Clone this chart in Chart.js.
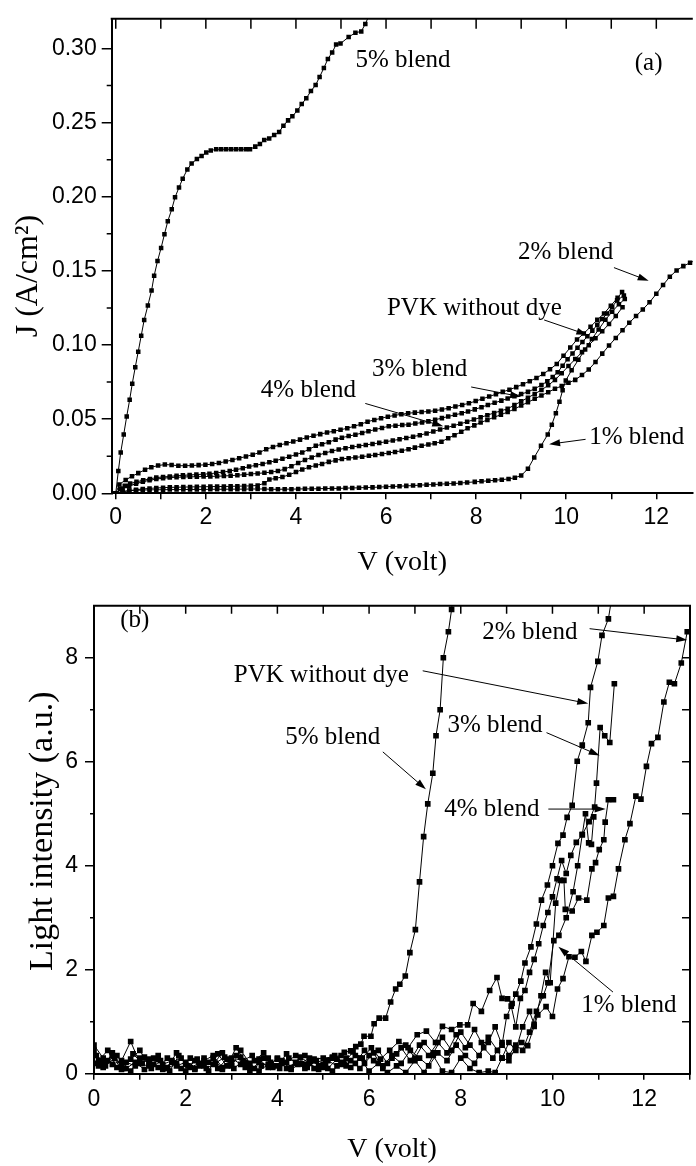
<!DOCTYPE html>
<html><head><meta charset="utf-8">
<script src="https://cdn.jsdelivr.net/npm/chart.js@4/dist/chart.umd.min.js"></script>
<style>
html,body{margin:0;padding:0;background:#fff;}
#wrap{position:relative;width:696px;height:1166px;overflow:hidden;background:#fff;}
canvas{position:absolute;left:0;}
#ca{top:0;}
#cb{top:585px;}
</style></head><body>
<div id="wrap"><canvas id="ca" width="696" height="585"></canvas><canvas id="cb" width="696" height="581"></canvas></div>
<script>
// ---------- Panel (a): J (A/cm2) vs V (volt) ----------
const a5 = [[0,0],[0.057,0.015],[0.11,0.0275],[0.177,0.0397],[0.243,0.0518],[0.309,0.0631],[0.366,0.0739],[0.433,0.085],[0.499,0.0955],[0.565,0.1063],[0.631,0.1169],[0.713,0.1266],[0.795,0.1367],[0.852,0.1467],[0.927,0.1566],[1.007,0.1655],[1.081,0.1747],[1.155,0.1835],[1.243,0.1915],[1.316,0.1996],[1.404,0.2062],[1.486,0.2122],[1.589,0.2184],[1.684,0.2224],[1.801,0.2254],[1.905,0.2274],[2.009,0.2298],[2.11,0.2312],[2.23,0.232],[2.34,0.232],[2.45,0.232],[2.56,0.232],[2.67,0.232],[2.78,0.232],[2.89,0.232],[2.98,0.232],[3.097,0.2338],[3.2,0.2356],[3.296,0.2382],[3.406,0.2393],[3.517,0.2416],[3.627,0.2437],[3.722,0.2479],[3.826,0.2515],[3.921,0.2543],[4.031,0.2581],[4.128,0.2625],[4.23,0.2664],[4.333,0.2713],[4.437,0.2753],[4.525,0.2808],[4.62,0.2868],[4.709,0.2929],[4.804,0.2973],[4.892,0.3026],[4.989,0.3033],[5.17,0.3077],[5.32,0.3106],[5.45,0.3115],[5.54,0.3165],[5.62,0.322]];
const aPVK = [[0,0],[0.08,0.006],[0.22,0.009],[0.36,0.0115],[0.5,0.0136],[0.65,0.0159],[0.79,0.0176],[0.94,0.0187],[1.09,0.0194],[1.24,0.0191],[1.39,0.0186],[1.54,0.0186],[1.69,0.0187],[1.84,0.019],[1.99,0.0192],[2.14,0.0197],[2.29,0.0205],[2.44,0.0214],[2.59,0.0225],[2.74,0.0237],[2.89,0.0248],[3.04,0.026],[3.19,0.0275],[3.34,0.0297],[3.49,0.0313],[3.64,0.0326],[3.79,0.0337],[3.94,0.0349],[4.09,0.0362],[4.24,0.0376],[4.39,0.0388],[4.54,0.0399],[4.69,0.041],[4.84,0.0419],[4.99,0.0428],[5.14,0.0439],[5.29,0.0452],[5.44,0.0466],[5.59,0.0483],[5.74,0.0495],[5.89,0.0506],[6.04,0.0517],[6.19,0.0525],[6.34,0.0533],[6.49,0.054],[6.64,0.0544],[6.79,0.0548],[6.94,0.0552],[7.09,0.0557],[7.24,0.0565],[7.39,0.0574],[7.54,0.0585],[7.69,0.0596],[7.84,0.0607],[7.99,0.0622],[8.14,0.0637],[8.29,0.0653],[8.44,0.0668],[8.59,0.0684],[8.74,0.0699],[8.89,0.0716],[9.04,0.0736],[9.19,0.0756],[9.34,0.0778],[9.49,0.0805],[9.64,0.0836],[9.79,0.0872],[9.94,0.0928],[10.09,0.0983],[10.24,0.1037],[10.39,0.1078],[10.54,0.1123],[10.69,0.117],[10.84,0.1213],[10.99,0.1265],[11.14,0.1318],[11.24,0.1357]];
const a4 = [[0,0],[0.1,0.003],[0.2,0.005],[0.32,0.0066],[0.46,0.0077],[0.61,0.0088],[0.76,0.0097],[0.9,0.0106],[1.05,0.011],[1.2,0.0114],[1.35,0.0118],[1.49,0.0121],[1.64,0.0124],[1.79,0.0126],[1.94,0.0129],[2.08,0.0132],[2.23,0.0137],[2.38,0.0143],[2.53,0.015],[2.67,0.0159],[2.82,0.0169],[2.96,0.018],[3.11,0.0189],[3.26,0.0198],[3.41,0.0209],[3.55,0.022],[3.7,0.0233],[3.85,0.0247],[4.0,0.0261],[4.14,0.0275],[4.29,0.0297],[4.44,0.032],[4.58,0.0331],[4.73,0.0345],[4.88,0.0362],[5.02,0.0375],[5.17,0.0386],[5.32,0.0395],[5.47,0.0407],[5.61,0.0419],[5.76,0.043],[5.91,0.0441],[6.06,0.0452],[6.21,0.0456],[6.36,0.046],[6.5,0.0463],[6.65,0.047],[6.8,0.0478],[6.94,0.0485],[7.09,0.0496],[7.24,0.0507],[7.38,0.0518],[7.53,0.0529],[7.68,0.054],[7.82,0.0551],[7.97,0.0566],[8.12,0.0581],[8.26,0.0596],[8.41,0.061],[8.56,0.0625],[8.7,0.0639],[8.85,0.0654],[9.0,0.0669],[9.15,0.0684],[9.3,0.0705],[9.45,0.073],[9.58,0.0755],[9.7,0.0785],[9.81,0.0816],[9.92,0.086],[10.03,0.0904],[10.14,0.0943],[10.25,0.0981],[10.36,0.102],[10.47,0.1059],[10.58,0.1097],[10.69,0.1136],[10.8,0.1175],[10.91,0.1213],[11.02,0.1257],[11.13,0.1301],[11.28,0.1334]];
const a3 = [[0,0],[0.15,0.003],[0.3,0.005],[0.45,0.0065],[0.6,0.0078],[0.75,0.0088],[0.9,0.0096],[1.05,0.0102],[1.2,0.0106],[1.35,0.0108],[1.5,0.011],[1.65,0.0111],[1.8,0.0112],[1.95,0.0113],[2.1,0.0114],[2.25,0.0115],[2.4,0.0117],[2.55,0.0119],[2.7,0.0122],[2.85,0.0126],[3.0,0.013],[3.15,0.0134],[3.3,0.0138],[3.45,0.0143],[3.6,0.015],[3.75,0.0163],[3.9,0.0182],[4.05,0.0205],[4.2,0.0225],[4.35,0.0242],[4.5,0.0258],[4.65,0.0272],[4.8,0.0285],[4.95,0.0295],[5.1,0.0304],[5.25,0.0312],[5.4,0.0319],[5.55,0.0326],[5.7,0.0333],[5.85,0.034],[6.0,0.0348],[6.15,0.0356],[6.3,0.0364],[6.45,0.0373],[6.6,0.0382],[6.75,0.0392],[6.9,0.0404],[7.05,0.0417],[7.2,0.043],[7.35,0.0443],[7.5,0.0456],[7.65,0.0469],[7.8,0.0482],[7.95,0.0497],[8.1,0.0512],[8.25,0.0527],[8.4,0.0542],[8.55,0.0556],[8.7,0.057],[8.85,0.0595],[9.0,0.062],[9.15,0.0645],[9.3,0.067],[9.45,0.0697],[9.6,0.0728],[9.75,0.0765],[9.9,0.081],[10.05,0.0858],[10.2,0.0905],[10.35,0.0952],[10.5,0.0998],[10.65,0.1045],[10.8,0.1093],[10.95,0.1142],[11.1,0.1195],[11.25,0.1255]];
const a2 = [[0,0],[0.15,0.001],[0.3,0.0018],[0.45,0.0024],[0.6,0.0029],[0.75,0.0033],[0.9,0.0036],[1.05,0.0038],[1.2,0.004],[1.35,0.0041],[1.5,0.0042],[1.65,0.0043],[1.8,0.0044],[1.95,0.0044],[2.1,0.0045],[2.25,0.0046],[2.4,0.0046],[2.55,0.0047],[2.7,0.0048],[2.85,0.0049],[3.0,0.005],[3.15,0.0053],[3.3,0.0068],[3.41,0.0093],[3.55,0.0101],[3.7,0.011],[3.85,0.0125],[4.0,0.0143],[4.14,0.016],[4.29,0.0176],[4.44,0.0188],[4.58,0.0198],[4.73,0.0212],[4.88,0.0222],[5.02,0.0232],[5.17,0.0237],[5.32,0.0242],[5.47,0.0247],[5.62,0.0253],[5.76,0.0259],[5.91,0.0265],[6.06,0.0272],[6.2,0.0279],[6.35,0.0287],[6.5,0.0297],[6.64,0.0308],[6.79,0.032],[6.94,0.0329],[7.08,0.0337],[7.23,0.0348],[7.38,0.0372],[7.52,0.0392],[7.67,0.0415],[7.81,0.0438],[7.96,0.0458],[8.1,0.0477],[8.25,0.0495],[8.4,0.0513],[8.55,0.053],[8.7,0.0548],[8.85,0.0568],[9.0,0.0592],[9.15,0.0614],[9.3,0.0637],[9.45,0.066],[9.6,0.0682],[9.75,0.0705],[9.9,0.0724],[10.05,0.0745],[10.2,0.0765],[10.35,0.0798],[10.5,0.0835],[10.65,0.0885],[10.8,0.0942],[10.95,0.0996],[11.1,0.1048],[11.25,0.1099],[11.4,0.115],[11.55,0.1195],[11.7,0.124],[11.85,0.1288],[12.0,0.1345],[12.15,0.1405],[12.3,0.146],[12.45,0.1503],[12.6,0.1532],[12.75,0.1555],[12.9,0.1575]];
const a1 = [[0,0],[0.15,0.0012],[0.3,0.0018],[0.45,0.002],[0.6,0.0022],[0.75,0.0023],[0.9,0.0024],[1.05,0.0024],[1.2,0.0025],[1.35,0.0025],[1.5,0.0025],[1.65,0.0026],[1.8,0.0026],[1.95,0.0026],[2.1,0.0027],[2.25,0.0027],[2.4,0.0027],[2.55,0.0028],[2.7,0.0028],[2.85,0.0028],[3.0,0.0029],[3.15,0.0029],[3.3,0.0029],[3.45,0.0027],[3.6,0.0027],[3.75,0.0028],[3.9,0.0028],[4.05,0.0029],[4.2,0.003],[4.35,0.003],[4.5,0.0031],[4.65,0.0032],[4.8,0.0033],[4.95,0.0033],[5.1,0.0035],[5.25,0.0036],[5.4,0.0037],[5.55,0.0039],[5.7,0.004],[5.85,0.0042],[6.0,0.0044],[6.15,0.0046],[6.3,0.0048],[6.45,0.005],[6.6,0.0052],[6.75,0.0055],[6.9,0.0057],[7.05,0.0059],[7.2,0.0062],[7.35,0.0064],[7.5,0.0066],[7.65,0.0069],[7.8,0.0073],[7.97,0.0077],[8.12,0.0081],[8.27,0.0084],[8.42,0.0088],[8.57,0.0092],[8.72,0.0097],[8.86,0.0105],[9.0,0.012],[9.15,0.0165],[9.29,0.0242],[9.44,0.032],[9.59,0.0397],[9.68,0.0463],[9.77,0.054],[9.85,0.0617],[9.92,0.0695],[9.99,0.0761],[10.12,0.083],[10.27,0.09],[10.42,0.097],[10.57,0.104],[10.72,0.1105],[10.87,0.117],[11.02,0.1225],[11.17,0.1275],[11.3,0.131]];

// ---------- Panel (b): Light intensity (a.u.) vs V (volt) ----------
const b5 = [[0,0.55],[0.2,0.3],[0.4,0.18],[0.6,0.25],[0.8,0.62],[1.0,0.2],[1.2,0.28],[1.4,0.12],[1.6,0.3],[1.8,0.15],[2.0,0.22],[2.2,0.08],[2.4,0.3],[2.6,0.18],[2.8,0.4],[3.0,0.15],[3.2,0.45],[3.4,0.2],[3.6,0.28],[3.8,0.12],[4.0,0.3],[4.2,0.22],[4.4,0.35],[4.6,0.18],[4.8,0.28],[5.0,0.3],[5.2,0.32],[5.39,0.35],[5.46,0.41],[5.6,0.44],[5.71,0.52],[5.82,0.57],[5.89,0.72],[6.04,0.72],[6.11,0.96],[6.22,1.07],[6.36,1.07],[6.47,1.38],[6.58,1.63],[6.67,1.72],[6.79,1.88],[6.89,2.33],[7.01,2.77],[7.1,3.69],[7.19,4.56],[7.28,5.19],[7.39,5.78],[7.46,6.5],[7.55,7.0],[7.62,8.0],[7.73,8.5],[7.8,8.93],[7.87,9.6]];
const bPVK = [[0.05,0.35],[0.25,0.15],[0.45,0.3],[0.65,0.1],[0.85,0.38],[1.05,0.2],[1.25,0.1],[1.45,0.25],[1.65,0.05],[1.85,0.35],[2.05,0.15],[2.25,0.28],[2.45,0.1],[2.65,0.2],[2.85,0.32],[3.05,0.1],[3.25,0.25],[3.45,0.35],[3.65,0.15],[3.85,0.22],[4.05,0.1],[4.25,0.3],[4.45,0.18],[4.65,0.12],[4.85,0.25],[5.05,0.2],[5.25,0.35],[5.45,0.2],[5.65,0.42],[5.85,0.3],[6.05,0.5],[6.25,0.28],[6.45,0.45],[6.65,0.62],[6.85,0.5],[7.05,0.75],[7.25,0.82],[7.45,0.6],[7.6,0.91],[7.8,0.85],[7.98,0.94],[8.15,0.94],[8.27,1.35],[8.45,1.2],[8.63,1.6],[8.79,1.85],[8.9,1.45],[9.02,1.44],[9.12,1.35],[9.2,1.53],[9.31,1.78],[9.4,2.13],[9.53,2.44],[9.65,2.88],[9.76,3.34],[9.89,3.63],[10.0,4.0],[10.12,4.43],[10.23,4.59],[10.32,4.93],[10.43,5.16],[10.54,6.01],[10.65,6.32],[10.78,6.75],[10.83,7.43],[10.99,7.93],[11.08,8.43],[11.22,8.75],[11.32,9.3]];
const b3 = [[0.1,0.25],[0.3,0.45],[0.5,0.12],[0.7,0.22],[0.9,0.15],[1.1,0.32],[1.3,0.18],[1.5,0.08],[1.7,0.22],[1.9,0.3],[2.1,0.12],[2.3,0.2],[2.5,0.05],[2.7,0.38],[2.9,0.15],[3.1,0.5],[3.3,0.22],[3.5,0.1],[3.7,0.3],[3.9,0.12],[4.1,0.25],[4.3,0.08],[4.5,0.2],[4.7,0.3],[4.9,0.15],[5.1,0.1],[5.3,0.28],[5.5,0.15],[5.7,0.35],[5.9,0.2],[6.1,0.4],[6.3,0.1],[6.5,0.3],[6.7,0.5],[6.9,0.25],[7.1,0.55],[7.3,0.35],[7.5,0.6],[7.7,0.4],[7.9,0.75],[8.1,0.5],[8.3,0.85],[8.45,0.6],[8.6,0.6],[8.75,0.9],[8.9,0.55],[9.0,1.1],[9.1,1.3],[9.2,0.9],[9.3,1.45],[9.4,1.6],[9.5,1.95],[9.6,2.2],[9.7,2.5],[9.8,2.85],[9.9,3.1],[10.0,3.4],[10.1,3.75],[10.2,4.1],[10.3,3.85],[10.4,4.2],[10.52,4.45],[10.65,4.6],[10.8,4.85],[10.92,5.13],[10.96,5.59],[11.04,6.66],[11.14,6.5],[11.25,6.37],[11.35,7.5]];
const b4 = [[0,0.45],[0.2,0.2],[0.4,0.35],[0.6,0.08],[0.8,0.28],[1.0,0.45],[1.2,0.15],[1.4,0.28],[1.6,0.12],[1.8,0.4],[2.0,0.18],[2.2,0.1],[2.4,0.25],[2.6,0.35],[2.8,0.12],[3.0,0.3],[3.2,0.18],[3.4,0.05],[3.6,0.22],[3.8,0.3],[4.0,0.15],[4.2,0.38],[4.4,0.2],[4.6,0.1],[4.8,0.25],[5.0,0.12],[5.2,0.3],[5.4,0.18],[5.6,0.25],[5.8,0.1],[6.0,0.35],[6.2,0.45],[6.4,0.2],[6.6,0.38],[6.8,0.55],[7.0,0.3],[7.2,0.6],[7.4,0.4],[7.6,0.7],[7.8,0.45],[8.0,0.8],[8.2,0.55],[8.4,0.35],[8.6,0.7],[8.8,0.45],[8.9,0.3],[9.05,0.6],[9.2,0.45],[9.35,0.9],[9.5,1.2],[9.6,0.95],[9.75,1.5],[9.85,1.95],[9.95,1.75],[10.07,3.28],[10.17,3.72],[10.25,3.72],[10.28,3.16],[10.43,3.13],[10.57,3.38],[10.75,3.34],[10.86,3.94],[10.94,4.06],[11.02,4.31],[11.12,4.5],[11.15,4.84],[11.22,5.27],[11.33,5.27]];
const b2 = [[0,0.2],[0.2,0.12],[0.4,0.4],[0.6,0.15],[0.8,0.05],[1.0,0.3],[1.2,0.2],[1.4,0.35],[1.6,0.1],[1.8,0.2],[2.0,0.05],[2.2,0.25],[2.4,0.15],[2.6,0.3],[2.8,0.08],[3.0,0.2],[3.2,0.32],[3.4,0.12],[3.6,0.05],[3.8,0.18],[4.0,0.28],[4.2,0.1],[4.4,0.22],[4.6,0.35],[4.8,0.1],[5.0,0.18],[5.2,0.05],[5.4,0.22],[5.6,0.12],[5.8,0.3],[6.0,0.05],[6.2,0.2],[6.4,0.02],[6.6,0.15],[6.8,0.02],[7.0,0.25],[7.2,0.02],[7.4,0.35],[7.6,0.05],[7.8,0.02],[8.0,0.3],[8.2,0.1],[8.4,0.02],[8.6,0.05],[8.75,0.02],[8.9,0.3],[9.05,0.25],[9.19,0.5],[9.33,0.6],[9.46,0.54],[9.6,0.91],[9.68,1.13],[9.86,1.29],[10.0,1.1],[10.11,1.63],[10.23,1.83],[10.36,2.25],[10.49,2.24],[10.63,2.35],[10.73,2.16],[10.86,2.66],[10.97,2.72],[11.12,2.85],[11.22,3.38],[11.33,3.41],[11.44,3.94],[11.58,4.5],[11.69,4.81],[11.82,5.34],[11.93,5.28],[12.05,5.91],[12.16,6.35],[12.3,6.47],[12.43,7.15],[12.55,7.53],[12.66,7.5],[12.81,7.9],[12.94,8.5]];
const b1 = [[0.1,0.15],[0.3,0.25],[0.5,0.35],[0.7,0.1],[0.9,0.22],[1.1,0.08],[1.3,0.3],[1.5,0.18],[1.7,0.25],[1.9,0.1],[2.1,0.3],[2.3,0.15],[2.5,0.22],[2.7,0.1],[2.9,0.28],[3.1,0.35],[3.3,0.12],[3.5,0.25],[3.7,0.4],[3.9,0.15],[4.1,0.2],[4.3,0.12],[4.5,0.32],[4.7,0.2],[4.9,0.08],[5.1,0.25],[5.3,0.15],[5.5,0.3],[5.7,0.2],[5.9,0.45],[6.1,0.25],[6.3,0.15],[6.5,0.35],[6.7,0.2],[6.9,0.45],[7.1,0.3],[7.3,0.15],[7.5,0.4],[7.7,0.25],[7.9,0.55],[8.1,0.35],[8.3,0.2],[8.5,0.5],[8.7,0.3],[8.9,0.6],[9.05,0.35],[9.2,0.55],[9.35,0.45],[9.5,0.8],[9.65,1.2],[9.8,1.5],[9.9,1.75],[10.03,2.56],[10.14,2.66],[10.3,3.0],[10.45,3.5],[10.55,4.0],[10.65,4.6],[10.72,5.0],[10.79,4.44],[10.85,4.41],[10.9,4.94]];

// ---------- Ticks ----------
const xTicks = [0,1,2,3,4,5,6,7,8,9,10,11,12];
const xTicksB = [0,1,2,3,4,5,6,7,8,9,10,11,12,13];
const aYTicks = [0,0.05,0.10,0.15,0.20,0.25,0.30];
const aYMinor = [0.025,0.075,0.125,0.175,0.225,0.275];
const bYTicks = [0,2,4,6,8];
const bYMinor = [1,3,5,7];
const bRightTicks = [1,2,3,4,5,6,7,8];

// ---------- Annotations (text, position, arrow in data units) ----------
const notesA = [
  {t:'5% blend', x:5.32, y:0.292},
  {t:'(a)', x:11.83, y:0.29, align:'center'},
  {t:'2% blend', x:8.93, y:0.1623, ar:[11.06,0.1522,11.83,0.1433]},
  {t:'PVK without dye', x:6.02, y:0.1247, ar:[9.51,0.1169,10.47,0.1069]},
  {t:'3% blend', x:5.69, y:0.0836, ar:[7.89,0.0717,9.0,0.0651]},
  {t:'4% blend', x:3.22, y:0.0697, ar:[5.54,0.0606,7.27,0.0452]},
  {t:'1% blend', x:10.51, y:0.0379, ar:[10.43,0.0364,9.62,0.0331]}
];
const notesB = [
  {t:'(b)', x:0.89, y:8.72, align:'center'},
  {t:'2% blend', x:8.47, y:8.48, ar:[10.81,8.56,12.94,8.34]},
  {t:'PVK without dye', x:3.05, y:7.67, ar:[7.17,7.75,10.78,7.12]},
  {t:'5% blend', x:4.17, y:6.46, ar:[6.3,6.19,7.24,5.47]},
  {t:'3% blend', x:7.71, y:6.7, ar:[9.87,6.56,11.03,6.12]},
  {t:'4% blend', x:7.64, y:5.09, ar:[9.91,5.09,11.16,5.09]},
  {t:'1% blend', x:10.63, y:1.32, ar:[11.32,1.57,10.13,2.44]}
];

const SANS = "'Liberation Sans', Arial, sans-serif";
const SERIF = "'Liberation Serif', 'Times New Roman', serif";

function ds(label, arr, r) {
  return {label, data: arr.map(p => ({x:p[0], y:p[1]})), showLine:true, borderColor:'#000', borderWidth:1,
    backgroundColor:'#000', pointBackgroundColor:'#000', pointStyle:'rect', pointRadius:r, pointHoverRadius:r,
    pointBorderWidth:0, tension:0};
}

const framePlugin = {
  id:'frame',
  afterDraw(chart, args, o) {
    const ctx = chart.ctx, a = chart.chartArea, xs = chart.scales.x, ys = chart.scales.y;
    ctx.save();
    ctx.strokeStyle = '#000';
    ctx.lineWidth = 2;
    ctx.beginPath();
    ctx.moveTo(a.left - 1, a.top);
    ctx.lineTo(a.right, a.top);
    if (o.right) ctx.lineTo(a.right, a.bottom + 1);
    ctx.stroke();
    ctx.lineWidth = 1.5;
    ctx.beginPath();
    for (const v of o.topTicks) { const p = xs.getPixelForValue(v); ctx.moveTo(p, a.top); ctx.lineTo(p, a.top + o.topLen); }
    if (o.rightTicks) for (const v of o.rightTicks) { const p = ys.getPixelForValue(v); ctx.moveTo(a.right, p); ctx.lineTo(a.right - o.rightLen, p); }
    for (const v of o.minorY) { const p = ys.getPixelForValue(v); ctx.moveTo(a.left, p); ctx.lineTo(a.left - o.minorLen, p); }
    ctx.stroke();
    ctx.fillStyle = '#000';
    ctx.font = o.font;
    ctx.textBaseline = 'middle';
    for (const n of o.notes) {
      ctx.textAlign = n.align || 'left';
      ctx.fillText(n.t, xs.getPixelForValue(n.x), ys.getPixelForValue(n.y));
      if (n.ar) {
        const x1 = xs.getPixelForValue(n.ar[0]), y1 = ys.getPixelForValue(n.ar[1]);
        const x2 = xs.getPixelForValue(n.ar[2]), y2 = ys.getPixelForValue(n.ar[3]);
        const ang = Math.atan2(y2 - y1, x2 - x1), L = 11, W = 3.5;
        ctx.lineWidth = 1;
        ctx.beginPath(); ctx.moveTo(x1, y1); ctx.lineTo(x2 - L*Math.cos(ang)*0.8, y2 - L*Math.sin(ang)*0.8); ctx.stroke();
        ctx.beginPath();
        ctx.moveTo(x2, y2);
        ctx.lineTo(x2 - L*Math.cos(ang) + W*Math.sin(ang), y2 - L*Math.sin(ang) - W*Math.cos(ang));
        ctx.lineTo(x2 - L*Math.cos(ang) - W*Math.sin(ang), y2 - L*Math.sin(ang) + W*Math.cos(ang));
        ctx.closePath(); ctx.fill();
      }
    }
    ctx.restore();
  }
};

function axisX(min, max, ticks, h, tl, pad, titlePad) {
  return {type:'linear', min, max,
    afterBuildTicks: s => { s.ticks = ticks.map(v => ({value:v})); },
    afterFit: s => { s.height = h; },
    ticks:{autoSkip:false, maxRotation:0, padding:pad, color:'#000', font:{family:SANS, size:23},
      callback: v => (v % 2 === 0 ? String(v) : '')},
    grid:{drawOnChartArea:false, drawTicks:true, tickLength:tl, color:'#000', lineWidth:1.5},
    border:{display:true, color:'#000', width:2},
    title:{display:true, text:'V (volt)', color:'#000', font:{family:SERIF, size:28}, padding:{top:0, bottom:titlePad}}
  };
}
function axisY(min, max, ticks, w, tl, pad, fmt, title, titlePad, tsize) {
  return {type:'linear', min, max,
    afterBuildTicks: s => { s.ticks = ticks.map(v => ({value:v})); },
    afterFit: s => { s.width = w; },
    ticks:{autoSkip:false, padding:pad, color:'#000', font:{family:SANS, size:23}, callback: fmt},
    grid:{drawOnChartArea:false, drawTicks:true, tickLength:tl, color:'#000', lineWidth:1.5},
    border:{display:true, color:'#000', width:2},
    title:{display:true, text:title, color:'#000', font:{family:SERIF, size:tsize}, padding:{top:titlePad, bottom:0}}
  };
}

new Chart(document.getElementById('ca'), {
  type:'scatter',
  data:{datasets:[ds('5% blend', a5, 3.2), ds('PVK without dye', aPVK, 3.2), ds('4% blend', a4, 3.2), ds('3% blend', a3, 3.2), ds('2% blend', a2, 3.2), ds('1% blend', a1, 3.2)]},
  options:{responsive:false, animation:false, events:[],
    layout:{padding:{top:10, left:0, right:0, bottom:0}},
    plugins:{legend:{display:false}, tooltip:{enabled:false},
      frame:{right:false, topTicks:xTicks, topLen:10, minorY:aYMinor, minorLen:5, notes:notesA, font:'25px ' + SERIF}},
    scales:{
      x: axisX(-0.09, 12.81, xTicks, 91.7, 6, 5, 6),
      y: axisY(0, 0.32, aYTicks, 111.7, 10, 5, v => v.toFixed(2), 'J (A/cm\u00B2)     ', 9, 32)
    }
  },
  plugins:[framePlugin]
});

new Chart(document.getElementById('cb'), {
  type:'scatter',
  data:{datasets:[ds('5% blend', b5, 4), ds('PVK without dye', bPVK, 4), ds('3% blend', b3, 4), ds('4% blend', b4, 4), ds('2% blend', b2, 4), ds('1% blend', b1, 4)]},
  options:{responsive:false, animation:false, events:[],
    layout:{padding:{top:8.3, left:0, right:1.7, bottom:0}},
    plugins:{legend:{display:false}, tooltip:{enabled:false},
      frame:{right:true, topTicks:xTicksB, topLen:8, rightTicks:bRightTicks, rightLen:8, minorY:bYMinor, minorLen:4, notes:notesB, font:'25px ' + SERIF}},
    scales:{
      x: axisX(0, 13, xTicksB, 92.3, 6, 6, 0),
      y: axisY(0, 9, bYTicks, 94, 9, 7, v => String(v), '  Light intensity (a.u.)', 23, 34)
    }
  },
  plugins:[framePlugin]
});
</script></body></html>
